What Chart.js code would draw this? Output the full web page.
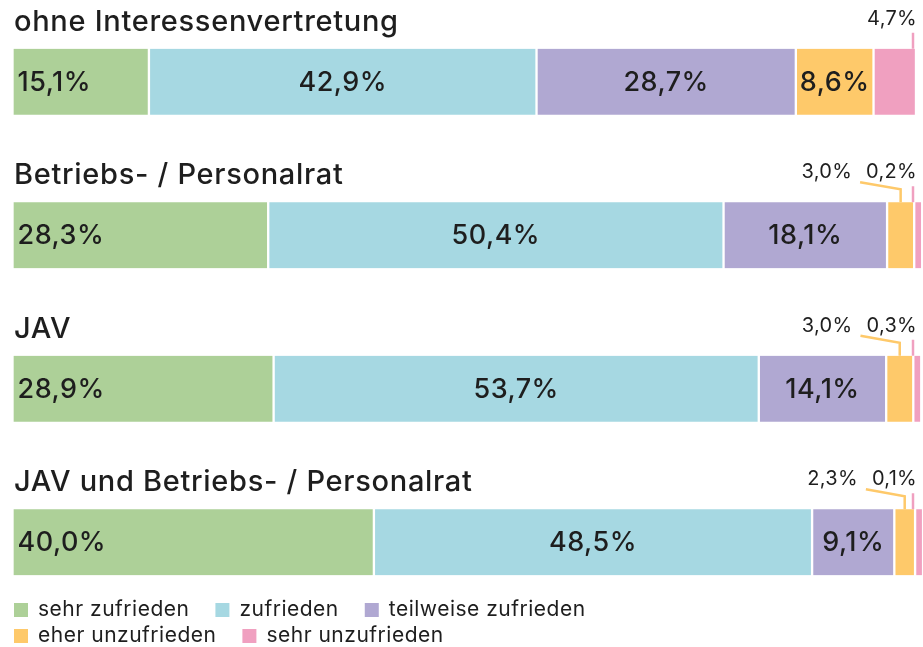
<!DOCTYPE html>
<html lang="de">
<head>
<meta charset="utf-8">
<script src="https://cdn.jsdelivr.net/npm/chart.js@4"></script>
<style>
  html, body { margin: 0; padding: 0; background: #fff; }
  #wrap { width: 923px; height: 647px; }
</style>
</head>
<body>
<div id="wrap"><canvas id="chart" width="923" height="647"></canvas></div>
<script>
const FONT = 'Inter';
const TEXT = '#1e1e1e';

const categories = [
  'ohne Interessenvertretung',
  'Betriebs- / Personalrat',
  'JAV',
  'JAV und Betriebs- / Personalrat',
];
const seriesNames = [
  'sehr zufrieden',
  'zufrieden',
  'teilweise zufrieden',
  'eher unzufrieden',
  'sehr unzufrieden',
];
const sehrZufrieden = [15.1, 28.3, 28.9, 40.0];
const zufrieden = [42.9, 50.4, 53.7, 48.5];
const teilweise = [28.7, 18.1, 14.1, 9.1];
const eherUnzufrieden = [8.6, 3.0, 3.0, 2.3];
const sehrUnzufrieden = [4.7, 0.2, 0.3, 0.1];
const colors = ['#ADD098', '#A6D8E2', '#B0A8D2', '#FEC96A', '#F0A0C0'];

function fmt(v) {
  return v.toFixed(1).replace('.', ',') + '%';
}

// Kategorie-Titel über jedem Balken
const titlePlugin = {
  id: 'titles',
  afterDatasetsDraw(chart) {
    const ctx = chart.ctx;
    const meta = chart.getDatasetMeta(0);
    ctx.save();
    ctx.font = '500 29px ' + FONT;
    ctx.letterSpacing = '0.7px';
    ctx.fillStyle = TEXT;
    ctx.textBaseline = 'alphabetic';
    ctx.textAlign = 'left';
    meta.data.forEach((bar, i) => {
      const top = bar.y - bar.height / 2;
      ctx.fillText(chart.data.labels[i], 14, top - 18);
    });
    ctx.restore();
  },
};

// Werte in den Segmenten bzw. mit Linie darüber
const valuePlugin = {
  id: 'values',
  afterDatasetsDraw(chart) {
    const ctx = chart.ctx;
    const right = chart.chartArea.right + 1;
    ctx.save();
    chart.data.datasets.forEach((ds, d) => {
      const meta = chart.getDatasetMeta(d);
      meta.data.forEach((bar, i) => {
        const v = ds.data[i];
        const top = bar.y - bar.height / 2;
        const left = Math.min(bar.x, bar.base);
        const rgt = Math.max(bar.x, bar.base);
        const cx = (left + rgt) / 2;
        if (v >= 5) {
          ctx.font = '500 27px ' + FONT;
          ctx.letterSpacing = '0.5px';
          ctx.fillStyle = TEXT;
          ctx.textBaseline = 'middle';
          if (d === 0) {
            ctx.textAlign = 'left';
            ctx.fillText(fmt(v), left + 5, bar.y + 1);
          } else {
            ctx.textAlign = 'center';
            ctx.fillText(fmt(v), cx, bar.y + 1);
          }
          return;
        }
        ctx.font = '20px ' + FONT;
        ctx.letterSpacing = '0.3px';
        ctx.fillStyle = TEXT;
        ctx.textBaseline = 'alphabetic';
        ctx.strokeStyle = colors[d];
        ctx.lineWidth = 2.5;
        const base = top - 24;
        if (d === 4) {
          ctx.textAlign = 'right';
          ctx.fillText(fmt(v), right, base);
          ctx.beginPath();
          ctx.moveTo(right - 4, top - 16);
          ctx.lineTo(right - 4, top);
          ctx.stroke();
        } else {
          const w5 = ctx.measureText(fmt(chart.data.datasets[4].data[i])).width;
          const tr = right - w5 - 14;
          ctx.textAlign = 'right';
          ctx.fillText(fmt(v), tr, base);
          ctx.beginPath();
          ctx.moveTo(tr + 8, base + 4);
          ctx.lineTo(cx, top - 13);
          ctx.lineTo(cx, top);
          ctx.stroke();
        }
      });
    });
    ctx.restore();
  },
};

// Legende in zwei Zeilen
const legendRows = [[0, 1, 2], [3, 4]];
const legendPlugin = {
  id: 'legendRows',
  afterDraw(chart) {
    const ctx = chart.ctx;
    ctx.save();
    ctx.font = '21px ' + FONT;
    ctx.letterSpacing = '0.5px';
    ctx.textBaseline = 'middle';
    ctx.textAlign = 'left';
    legendRows.forEach((row, r) => {
      const y = 610 + r * 26;
      let x = 14;
      row.forEach((d) => {
        const ds = chart.data.datasets[d];
        ctx.fillStyle = ds.backgroundColor;
        ctx.fillRect(x, y - 7, 14, 14);
        ctx.fillStyle = TEXT;
        ctx.fillText(ds.label, x + 24, y);
        x += 24 + ctx.measureText(ds.label).width + 26;
      });
    });
    ctx.restore();
  },
};

const seriesValues = [sehrZufrieden, zufrieden, teilweise, eherUnzufrieden, sehrUnzufrieden];

new Chart(document.getElementById('chart'), {
  type: 'bar',
  data: {
    labels: categories,
    datasets: seriesValues.map((vals, k) => ({
      label: seriesNames[k],
      data: vals,
      backgroundColor: colors[k],
      borderColor: '#ffffff',
      borderWidth: { left: 1.5, right: 1.5, top: 0, bottom: 0 },
      borderSkipped: false,
      barThickness: 66,
      minBarLength: k === 4 ? 8 : 0,
      clip: false,
    })),
  },
  options: {
    indexAxis: 'y',
    responsive: false,
    animation: false,
    layout: { padding: { left: 12.5, right: 7, top: 5, bottom: 28 } },
    scales: {
      x: { stacked: true, min: 0, max: 100, display: false },
      y: { stacked: true, display: false },
    },
    plugins: {
      legend: { display: false },
      tooltip: { enabled: false },
    },
  },
  plugins: [titlePlugin, valuePlugin, legendPlugin],
});
</script>
</body>
</html>
